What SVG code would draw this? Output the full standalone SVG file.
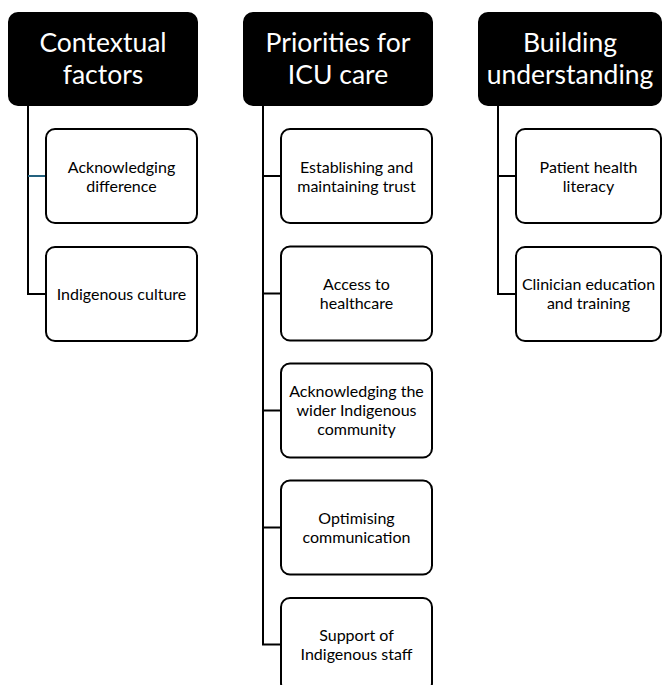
<svg xmlns="http://www.w3.org/2000/svg" width="662" height="685" viewBox="0 0 662 685">
<style>
.hdr{fill:#000;stroke:#000;stroke-width:2}
.hdr-t{fill:#fff;font-family:Lato,"Open Sans",sans-serif;font-size:26.5px;text-anchor:middle}
.box{fill:#fff;stroke:#000;stroke-width:2}
.box-t{fill:#000;font-family:Lato,"Open Sans",sans-serif;font-size:16px;text-anchor:middle}
.ln{fill:none;stroke:#000;stroke-width:2}
.teal{stroke:#24627f}
</style>
<rect width="662" height="685" fill="#fff"/>
<g id="connectors">
<path class="ln" d="M28 105V294H46"/>
<path class="ln teal" d="M28 176H46"/>
<path class="ln" d="M263 105V644.5H281M263 176H281M263 293.5H281M263 410.5H281M263 527.5H281"/>
<path class="ln" d="M498 105V294H516M498 176H516"/>
</g>
<g id="h1"><rect class="hdr" x="9" y="13" width="188" height="92" rx="9"/>
<text class="hdr-t" x="103" y="52">Contextual</text><text class="hdr-t" x="103" y="84">factors</text></g>
<g id="h2"><rect class="hdr" x="244" y="13" width="188" height="92" rx="9"/>
<text class="hdr-t" x="338" y="52">Priorities for</text><text class="hdr-t" x="338" y="84">ICU care</text></g>
<g id="h3"><rect class="hdr" x="479" y="13" width="182" height="92" rx="9"/>
<text class="hdr-t" x="570" y="52">Building</text><text class="hdr-t" x="570" y="84">understanding</text></g>
<g id="c1a"><rect class="box" x="46" y="129" width="151" height="94" rx="9"/>
<text class="box-t" x="121.5" y="172.5">Acknowledging</text><text class="box-t" x="121.5" y="191.5">difference</text></g>
<g id="c1b"><rect class="box" x="46" y="247" width="151" height="94" rx="9"/>
<text class="box-t" x="121.5" y="299.5">Indigenous culture</text></g>
<g id="c2a"><rect class="box" x="281" y="129" width="151" height="94" rx="9"/>
<text class="box-t" x="356.5" y="172.5">Establishing and</text><text class="box-t" x="356.5" y="191.5">maintaining trust</text></g>
<g id="c2b"><rect class="box" x="281" y="246.5" width="151" height="94" rx="9"/>
<text class="box-t" x="356.5" y="290">Access to</text><text class="box-t" x="356.5" y="309">healthcare</text></g>
<g id="c2c"><rect class="box" x="281" y="363.5" width="151" height="94" rx="9"/>
<text class="box-t" x="356.5" y="397">Acknowledging the</text><text class="box-t" x="356.5" y="416">wider Indigenous</text><text class="box-t" x="356.5" y="435">community</text></g>
<g id="c2d"><rect class="box" x="281" y="480.5" width="151" height="94" rx="9"/>
<text class="box-t" x="356.5" y="524">Optimising</text><text class="box-t" x="356.5" y="543">communication</text></g>
<g id="c2e"><rect class="box" x="281" y="598" width="151" height="94" rx="9"/>
<text class="box-t" x="356.5" y="641">Support of</text><text class="box-t" x="356.5" y="660">Indigenous staff</text></g>
<g id="c3a"><rect class="box" x="516" y="129" width="145" height="94" rx="9"/>
<text class="box-t" x="588.5" y="172.5">Patient health</text><text class="box-t" x="588.5" y="191.5">literacy</text></g>
<g id="c3b"><rect class="box" x="516" y="247" width="145" height="94" rx="9"/>
<text class="box-t" x="588.5" y="290">Clinician education</text><text class="box-t" x="588.5" y="309">and training</text></g>
</svg>
